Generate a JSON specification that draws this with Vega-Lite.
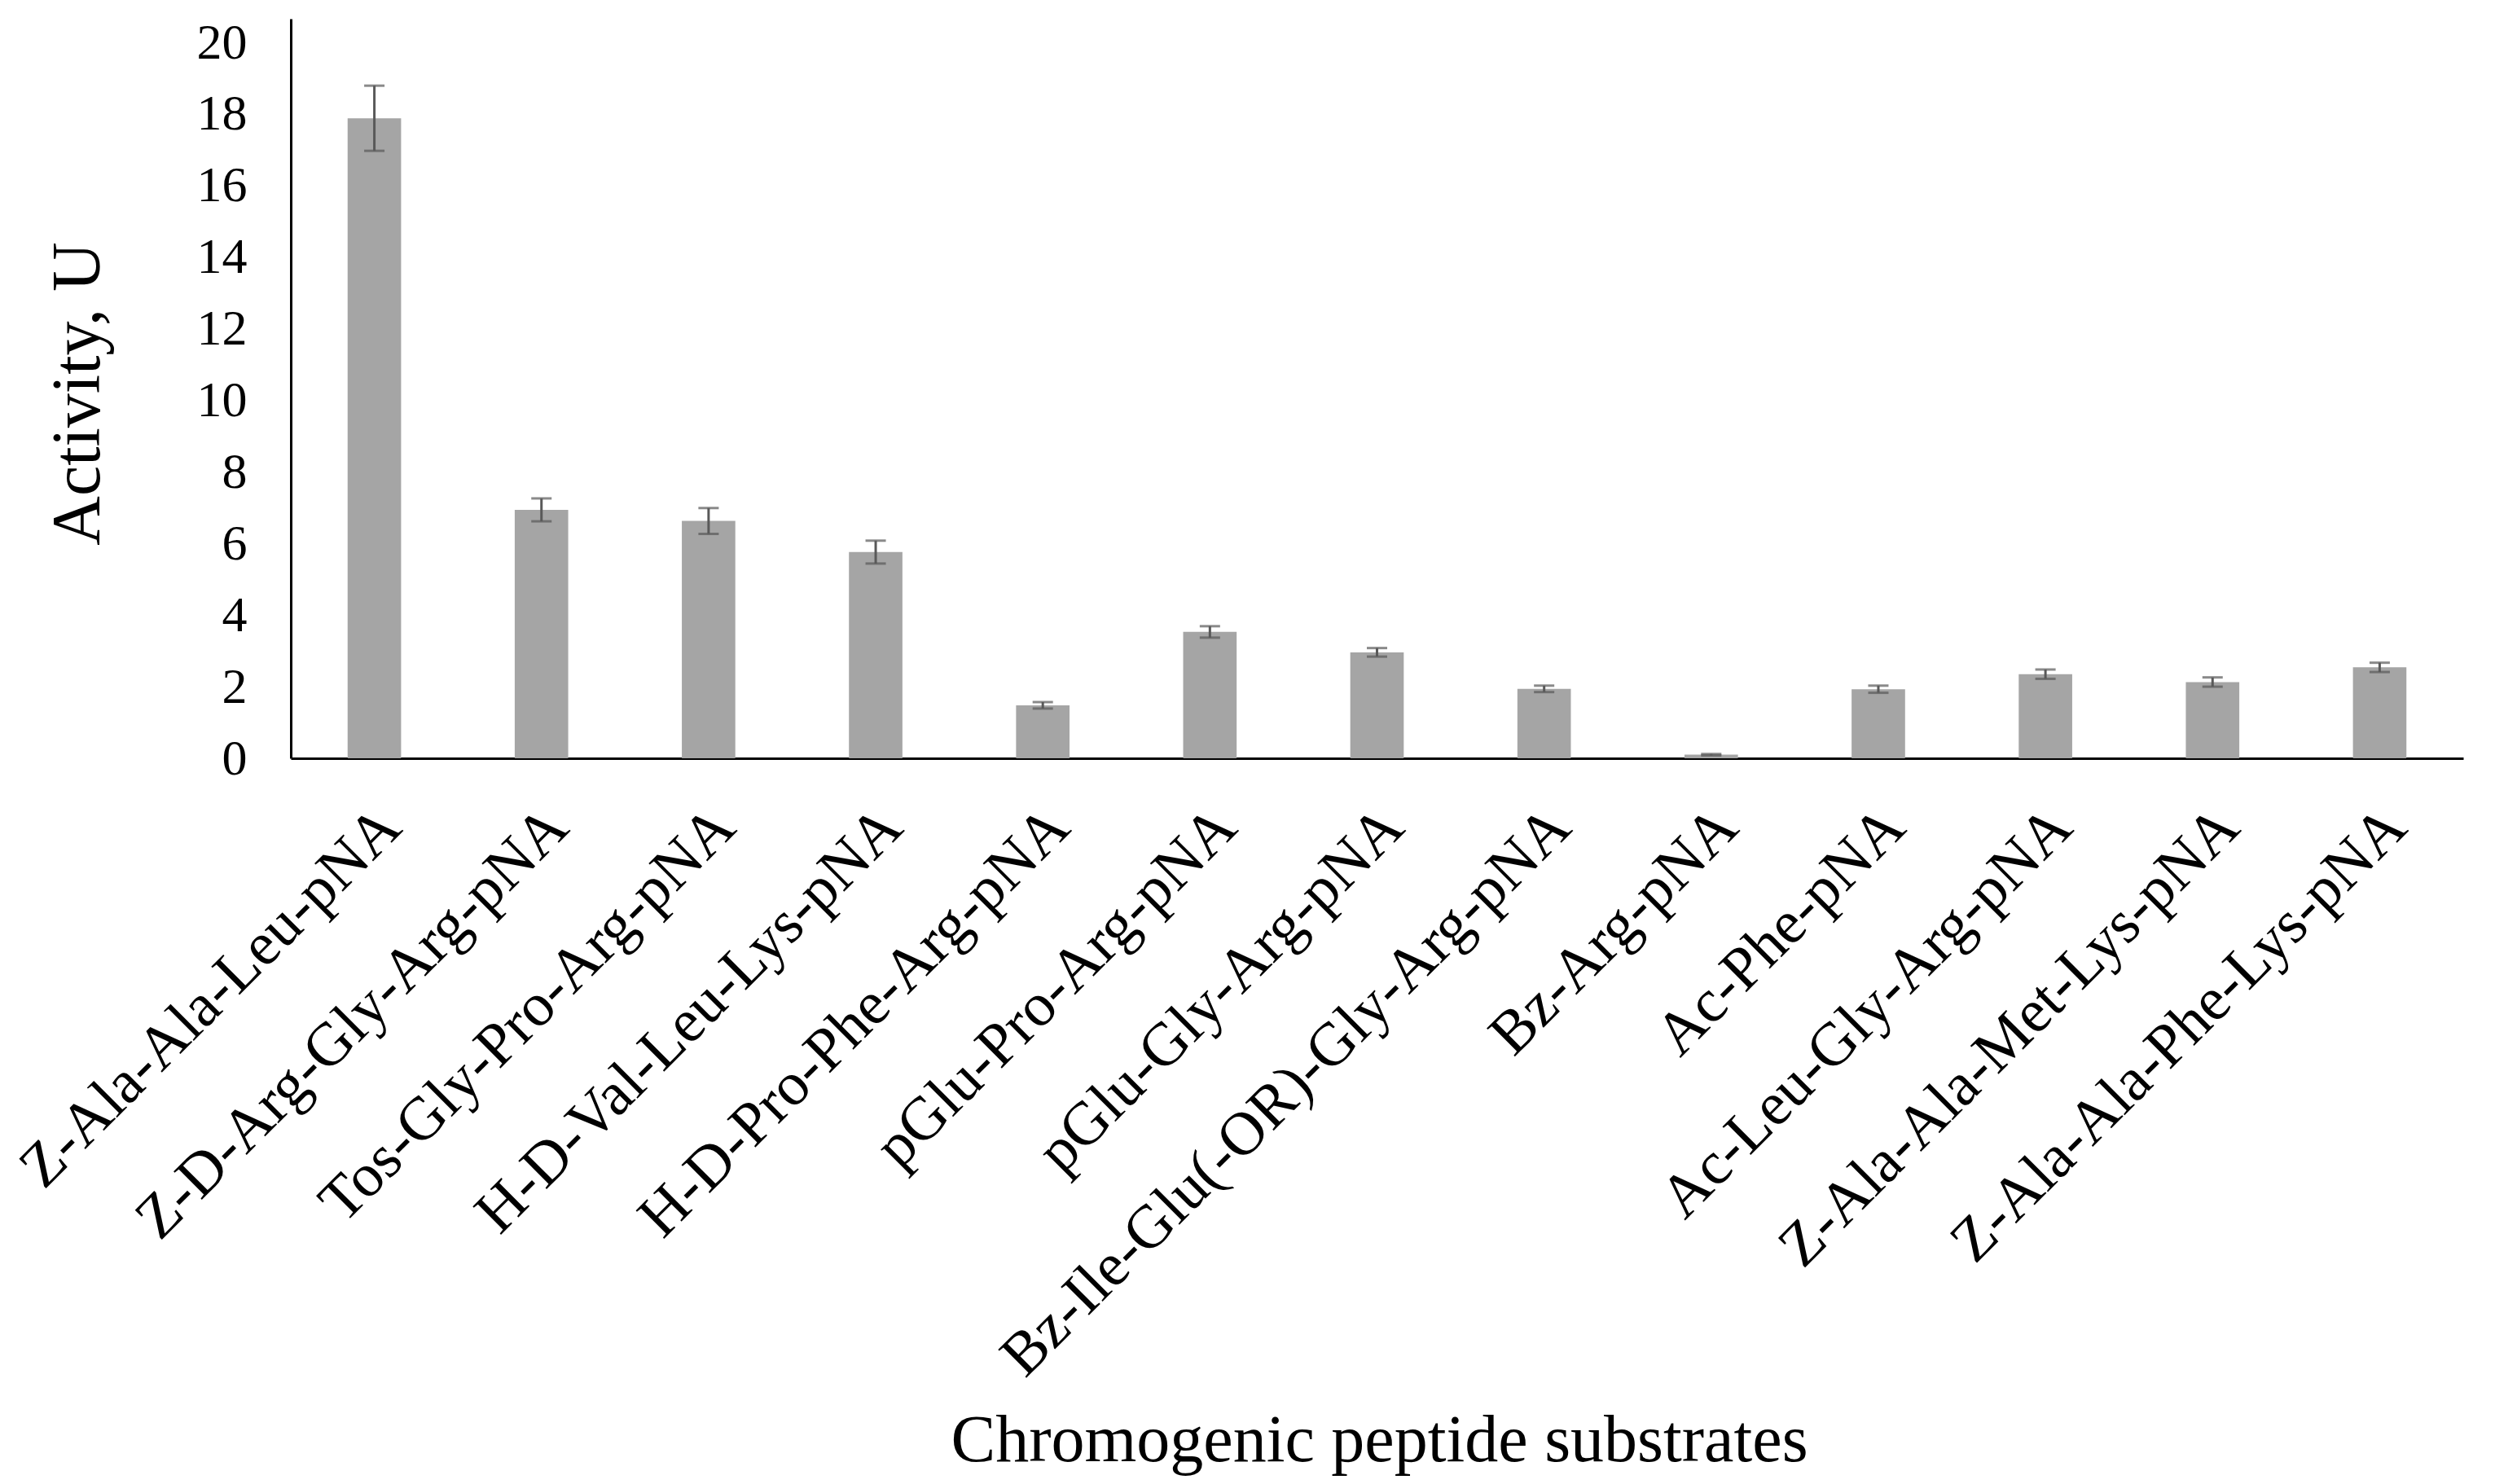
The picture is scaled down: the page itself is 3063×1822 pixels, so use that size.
{
  "$schema": "https://vega.github.io/schema/vega-lite/v6.json",
  "width": 2667,
  "height": 908,
  "autosize": {"type": "none"},
  "padding": {"left": 357, "top": 23, "right": 39, "bottom": 891},
  "background": "white",
  "config": {"view": {"stroke": null}, "font": "Liberation Serif"},
  "data": {"values": [
    {"substrate": "Z-Ala-Ala-Leu-pNA", "activity": 17.88, "sd": 0.91},
    {"substrate": "Z-D-Arg-Gly-Arg-pNA", "activity": 6.94, "sd": 0.32},
    {"substrate": "Tos-Gly-Pro-Arg-pNA", "activity": 6.63, "sd": 0.36},
    {"substrate": "H-D-Val-Leu-Lys-pNA", "activity": 5.76, "sd": 0.32},
    {"substrate": "H-D-Pro-Phe-Arg-pNA", "activity": 1.48, "sd": 0.09},
    {"substrate": "pGlu-Pro-Arg-pNA", "activity": 3.53, "sd": 0.16},
    {"substrate": "pGlu-Gly-Arg-pNA", "activity": 2.96, "sd": 0.12},
    {"substrate": "Bz-Ile-Glu(-OR)-Gly-Arg-pNA", "activity": 1.94, "sd": 0.09},
    {"substrate": "Bz-Arg-pNA", "activity": 0.1, "sd": 0.02},
    {"substrate": "Ac-Phe-pNA", "activity": 1.93, "sd": 0.1},
    {"substrate": "Ac-Leu-Gly-Arg-pNA", "activity": 2.35, "sd": 0.13},
    {"substrate": "Z-Ala-Ala-Met-Lys-pNA", "activity": 2.13, "sd": 0.13},
    {"substrate": "Z-Ala-Ala-Phe-Lys-pNA", "activity": 2.54, "sd": 0.13}
  ]},
  "encoding": {
    "x": {
      "field": "substrate", "type": "nominal", "sort": null,
      "scale": {"paddingInner": 0.68, "paddingOuter": 0.34},
      "axis": {
        "title": "Chromogenic peptide substrates",
        "titleFont": "Liberation Serif", "titleFontSize": 82, "titleFontWeight": "normal", "titleColor": "black",
        "titleX": 1336, "titleY": 862, "titleBaseline": "alphabetic", "titleAlign": "center", "titleAnchor": null,
        "labelFont": "Liberation Serif", "labelFontSize": 75, "labelColor": "black",
        "labelAngle": -45, "labelAlign": "right", "labelBaseline": "middle",
        "labelPadding": 72, "labelOffset": 20, "labelOverlap": false, "labelLimit": 2000,
        "ticks": false, "domainColor": "black", "domainWidth": 3, "grid": false
      }
    }
  },
  "layer": [
    {
      "mark": {"type": "bar", "color": "#a5a5a5"},
      "encoding": {
        "y": {
          "field": "activity", "type": "quantitative",
          "scale": {"domain": [0, 20.66], "nice": false, "zero": true},
          "axis": {
            "title": "Activity, U",
            "titleFont": "Liberation Serif", "titleFontSize": 84, "titleFontWeight": "normal", "titleColor": "black",
            "titleX": -236, "titleY": 460, "titleBaseline": "alphabetic", "titleAlign": "center", "titleAngle": -90,
            "values": [0, 2, 4, 6, 8, 10, 12, 14, 16, 18, 20],
            "labelFont": "Liberation Serif", "labelFontSize": 62, "labelColor": "black", "labelPadding": 54,
            "ticks": false, "domainColor": "black", "domainWidth": 3, "grid": false
          }
        }
      }
    },
    {
      "mark": {"type": "errorbar", "color": "#595959", "thickness": 3, "ticks": {"size": 25, "thickness": 3, "color": "#595959"}},
      "encoding": {
        "y": {"field": "activity", "type": "quantitative", "title": "Activity, U"},
        "yError": {"field": "sd"}
      }
    }
  ]
}
